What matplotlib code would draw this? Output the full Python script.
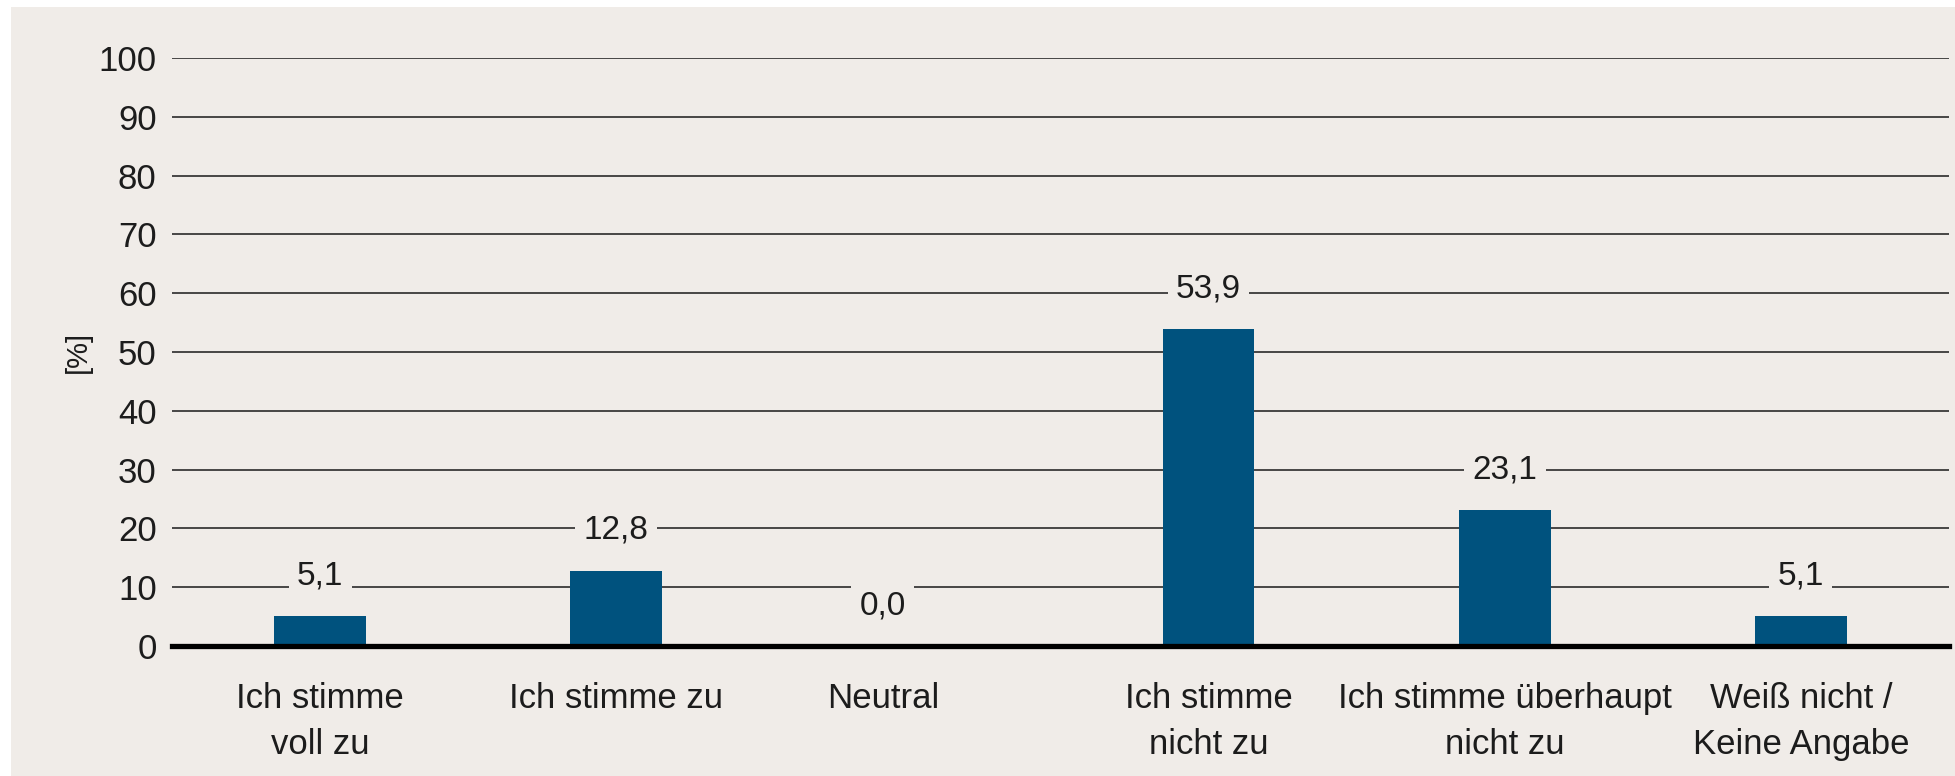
import numpy as np
import matplotlib.pyplot as plt
from matplotlib.patches import Rectangle

plt.rcParams['font.family'] = ['Liberation Sans', 'DejaVu Sans']

kategorien = ["Ich stimme\nvoll zu", "Ich stimme zu", "Neutral",
              "Ich stimme\nnicht zu", "Ich stimme überhaupt\nnicht zu",
              "Weiß nicht /\nKeine Angabe"]
werte = [5.1, 12.8, 0.0, 53.9, 23.1, 5.1]
pos = [0, 1, 1.9, 3, 4, 5]
yticks = [0, 10, 20, 30, 40, 50, 60, 70, 80, 90, 100]

bg = "#f0ece8"
blau = "#00527e"
text = "#1c1c1c"

fig = plt.figure(figsize=(19.56, 7.76), dpi=100, facecolor="white")
# beiger Hintergrund mit schmalem weissen Rand oben/links
fig.patches.append(Rectangle((11 / 1956, 0), 1, 1 - 7 / 776,
                             transform=fig.transFigure, facecolor=bg,
                             edgecolor="none", zorder=-10))

ax = fig.add_axes([172 / 1956, 1 - 646 / 776, (1949 - 172) / 1956, (646 - 58) / 776])
ax.set_facecolor("none")

ax.bar(pos, werte, width=0.31, color=blau, zorder=3)

for x, v in zip(pos, werte):
    ax.annotate(f"{v:.1f}".replace(".", ","), xy=(x, v), xytext=(0, 29),
                textcoords="offset points", ha="center", va="center",
                fontsize=24, color=text, zorder=5,
                bbox=dict(boxstyle="square,pad=0.25", fc=bg, ec="none"))

ax.set_xlim(-0.5, 5.5)
ax.set_ylim(0, 100)
ax.set_yticks(yticks)
ax.set_xticks(pos)
ax.set_xticklabels(kategorien, linespacing=1.5)
ax.tick_params(axis="both", length=0, labelsize=25, colors=text)
ax.tick_params(axis="y", pad=11)
ax.tick_params(axis="x", pad=26)

ax.yaxis.grid(True, color="#2a2a2a", lw=1.2, zorder=1)
ax.set_axisbelow(True)
for s in ax.spines.values():
    s.set_visible(False)
ax.axhline(0, color="black", lw=3.8, zorder=4, clip_on=False)

ax.set_ylabel("[%]", fontsize=21, color=text, labelpad=5)

fig.savefig("out.png", dpi=100, facecolor="white")
